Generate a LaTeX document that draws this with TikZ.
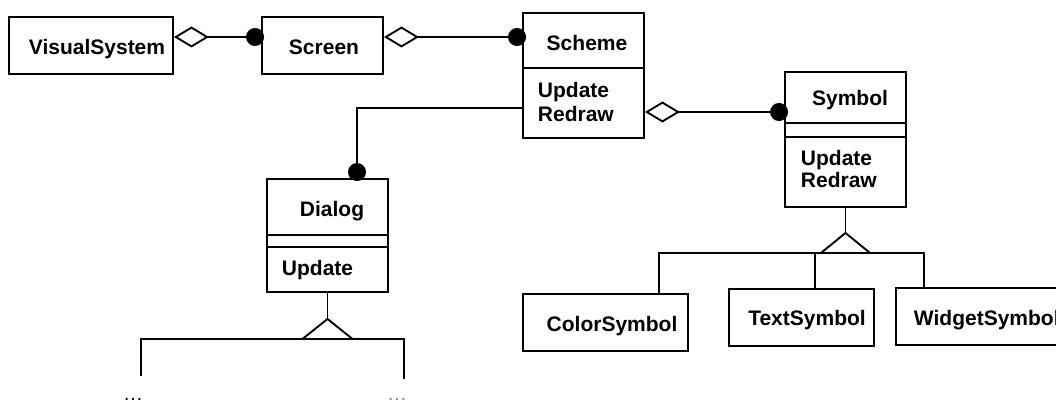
\documentclass[tikz,border=0pt]{standalone}
\usepackage{fontspec}
\setmainfont{Liberation Sans}
\usetikzlibrary{arrows.meta}
\begin{document}
\begin{tikzpicture}[x=1pt,y=-1pt,line width=1.9pt,
  umlbox/.style={draw, rectangle, inner sep=0pt},
  cname/.style={anchor=base, inner sep=0pt, font=\fontsize{21}{25}\selectfont\bfseries},
  cop/.style={anchor=base west, inner sep=0pt, font=\fontsize{21}{25}\selectfont\bfseries},
  agg/.style={{Diamond[open,length=35pt,width=21pt]}-{Circle[length=18pt]}},
  assoc/.style={-{Circle[length=18pt]}},
  more/.style={anchor=base, inner sep=0pt, font=\fontsize{20}{24}\selectfont}]
\clip (0,0) rectangle (1056,401);

% plain classes
\node[umlbox, minimum width=164pt, minimum height=57pt] (visual) at (91,45.5) {};
\node[cname] (visualname) at (97,55) {VisualSystem};
\node[umlbox, minimum width=121pt, minimum height=57pt] (screen) at (322.5,45.5) {};
\node[cname] (screenname) at (324,55) {Screen};

% Scheme: name + operations
\node[umlbox, minimum width=121pt, minimum height=125pt] (scheme) at (583.5,75.5) {};
\draw ([yshift=-56pt]scheme.north west) -- ([yshift=-56pt]scheme.north east);
\node[cname] (schemename) at (587,50.5) {Scheme};
\node[cop] (schemeopA) at (537,97.5) {Update};
\node[cop] (schemeopB) at (537,121.5) {Redraw};

% Symbol: name + empty attributes + operations
\node[umlbox, minimum width=121pt, minimum height=135pt] (symbol) at (845.5,139.5) {};
\draw ([yshift=-52pt]symbol.north west) -- ([yshift=-52pt]symbol.north east);
\draw ([yshift=-66pt]symbol.north west) -- ([yshift=-66pt]symbol.north east);
\node[cname] (symbolname) at (850,105.5) {Symbol};
\node[cop] (symbolopA) at (800,165.5) {Update};
\node[cop] (symbolopB) at (800,187.5) {Redraw};

% Dialog
\node[umlbox, minimum width=121pt, minimum height=113pt] (dialog) at (327.5,235.5) {};
\draw ([yshift=-57pt]dialog.north west) -- ([yshift=-57pt]dialog.north east);
\draw ([yshift=-69pt]dialog.north west) -- ([yshift=-69pt]dialog.north east);
\node[cname] (dialogname) at (332,216.5) {Dialog};
\node[cop] (dialogop) at (281,275.5) {Update};

% Symbol subclasses
\node[umlbox, minimum width=165pt, minimum height=57pt] (colorsym) at (605.5,322.5) {};
\node[cname] (colorname) at (612,331.5) {ColorSymbol};
\node[umlbox, minimum width=145pt, minimum height=57pt] (textsym) at (801.5,317.5) {};
\node[cname] (textname) at (807,325.5) {TextSymbol};
\node[umlbox, minimum width=170pt, minimum height=57pt] (widgetsym) at (981,316.5) {};
\node[cname, anchor=base west] (widgetname) at (913,325.5) {WidgetSymbol};

% aggregations
\draw[agg, shorten >=-3pt] ([yshift=8.5pt]visual.east) -- ([yshift=8.5pt]visual.east -| screen.west);
\draw[agg, shorten >=-4pt] ([yshift=8.5pt]screen.east) -- ([yshift=8.5pt]screen.east -| scheme.west);
\draw[agg, shorten >=-4pt] ([yshift=-36.5pt]scheme.east) -- ([yshift=-36.5pt]scheme.east -| symbol.west);

% Scheme -- Dialog association
\draw[assoc, shorten >=-3pt] ([yshift=-32.5pt]scheme.west) -| ([xshift=29.5pt]dialog.north);

% Dialog generalisation
\path (dialog.south) ++(0,46) coordinate (dbar);
\draw (dialog.south) -- ++(0,26);
\draw (dbar) ++(-25,0) -- ++(25,-20) -- ++(25,20) -- cycle;
\draw (141,376) |- (dbar) -| (404,379);
\node[more] (dotsL) at (133,400) {\char"2026};
\node[more, text=black!45] (dotsR) at (397,400.5) {\char"2026};

% Symbol generalisation
\path (symbol.south) ++(0,45) coordinate (sbar);
\draw (symbol.south) -- ++(0,25);
\draw (sbar) ++(-24.5,0) -- ++(24.5,-20) -- ++(24.5,20) -- cycle;
\draw ([xshift=53.5pt]colorsym.north) |- (sbar) -| ([xshift=-57pt]widgetsym.north);
\draw ([xshift=13.5pt]textsym.north) -- ([xshift=13.5pt]textsym.north |- sbar);
\end{tikzpicture}
\end{document}
